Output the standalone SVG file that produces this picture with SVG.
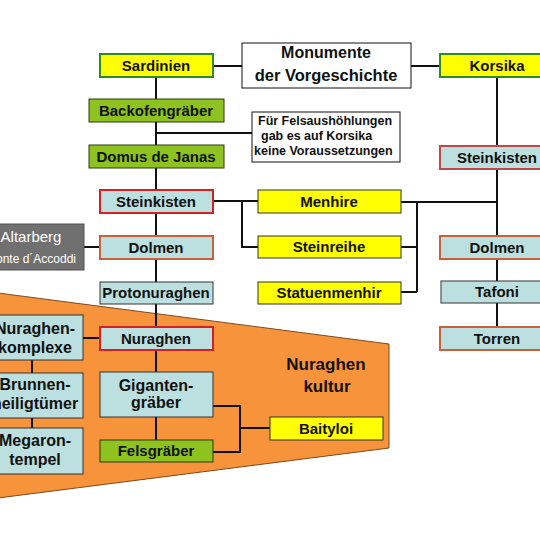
<svg xmlns="http://www.w3.org/2000/svg" width="540" height="540" viewBox="0 0 540 540">
<style>
text{font-family:"Liberation Sans",Arial,sans-serif;font-weight:bold;fill:#111;text-anchor:middle}
.c{stroke:#111;stroke-width:2;fill:none}
.yel{fill:#ffff00;stroke:#333;stroke-width:1}
.reg{fill:#ffff00;stroke:#2e8b1e;stroke-width:2}
.grn{fill:#8dc21f;stroke:#2a3a10;stroke-width:1}
.blu{fill:#bcdfdf;stroke:#333;stroke-width:1}
.red{fill:#bcdfdf;stroke:#d42020;stroke-width:2}
.bro{fill:#bcdfdf;stroke:#c8603c;stroke-width:2}
.rsk{fill:#bcdfdf;stroke:#c04848;stroke-width:2}
.t15{font-size:15px}
.t16{font-size:16px}
</style>
<rect width="540" height="540" fill="#ffffff"/>
<polygon points="-2,293 389,344 389,448 -2,498" fill="#f7933b" stroke="#7a4a20" stroke-width="1"/>
<g id="connectors">
<path class="c" d="M213,66H242M411,66H440"/>
<path class="c" d="M156,77V440"/>
<path class="c" d="M156,133H253"/>
<path class="c" d="M213,201H258M242,201V247H258"/>
<path class="c" d="M401,202H497M417,202V292M401,247H417M401,292H417"/>
<path class="c" d="M497,77V327"/>
<path class="c" d="M84,247H100"/>
<path class="c" d="M83,338H100M32,360V428"/>
<path class="c" d="M213,406H240V452H213M240,428H270"/>
</g>
<g id="monumente"><rect x="242" y="43" width="169" height="45" fill="#fff" stroke="#111" stroke-width="1"/><text x="326" y="58" class="t16">Monumente</text><text x="326" y="81" style="font-size:16.5px">der Vorgeschichte</text></g>
<g id="sardinien"><rect class="reg" x="100" y="54" width="113" height="23"/><text x="156" y="71" class="t15">Sardinien</text></g>
<g id="korsika"><rect class="reg" x="440" y="54" width="114" height="23"/><text x="497" y="71" class="t15">Korsika</text></g>
<g id="backofen"><rect class="grn" x="89" y="99" width="135" height="23"/><text x="156" y="116" class="t15">Backofengräber</text></g>
<g id="domus"><rect class="grn" x="89" y="145" width="135" height="23"/><text x="156" y="162" class="t15">Domus de Janas</text></g>
<g id="hinweis"><rect x="252" y="112" width="148" height="50" fill="#fff" stroke="#111" stroke-width="1"/>
<text x="258" y="125" style="font-size:12.5px;text-anchor:start">Für Felsaushöhlungen</text>
<text x="261" y="140" style="font-size:12.5px;text-anchor:start">gab es auf Korsika</text>
<text x="254" y="155" style="font-size:12.5px;text-anchor:start">keine Voraussetzungen</text></g>
<g id="steinkisten-s"><rect class="red" x="100" y="190" width="113" height="23"/><text x="156" y="207" class="t15">Steinkisten</text></g>
<g id="dolmen-s"><rect class="bro" x="100" y="236" width="113" height="23"/><text x="156" y="253" class="t15">Dolmen</text></g>
<g id="protonuraghen"><rect class="blu" x="100" y="282" width="113" height="22"/><text x="156" y="298" class="t15">Protonuraghen</text></g>
<g id="altarberg"><rect x="-22" y="224" width="106" height="46" fill="#707070" stroke="#505050" stroke-width="1"/>
<text x="31" y="242" style="font-weight:normal;fill:#fff;font-size:15px">Altarberg</text>
<text x="31" y="263" style="font-weight:normal;fill:#fff;font-size:12px">Monte d´Accoddi</text></g>
<g id="menhire"><rect class="yel" x="258" y="190" width="143" height="23"/><text x="329" y="207" class="t15">Menhire</text></g>
<g id="steinreihe"><rect class="yel" x="258" y="236" width="143" height="22"/><text x="329" y="252" class="t15">Steinreihe</text></g>
<g id="statuenmenhir"><rect class="yel" x="258" y="282" width="143" height="22"/><text x="329" y="298" class="t15">Statuenmenhir</text></g>
<g id="steinkisten-k"><rect class="rsk" x="440" y="146" width="114" height="23"/><text x="497" y="163" class="t15">Steinkisten</text></g>
<g id="dolmen-k"><rect class="bro" x="440" y="236" width="114" height="23"/><text x="497" y="253" class="t15">Dolmen</text></g>
<g id="tafoni"><rect class="blu" x="441" y="281" width="113" height="22"/><text x="497" y="297" class="t15">Tafoni</text></g>
<g id="torren"><rect class="bro" x="440" y="327" width="114" height="23"/><text x="497" y="344" class="t15">Torren</text></g>
<g id="nuraghen"><rect class="red" x="100" y="327" width="113" height="23"/><text x="156" y="344" class="t15">Nuraghen</text></g>
<g id="nuraghenkomplexe"><rect class="blu" x="-13" y="315" width="96" height="45"/><text x="35" y="334" class="t16">Nuraghen-</text><text x="35" y="353" class="t16">komplexe</text></g>
<g id="brunnen"><rect class="blu" x="-13" y="373" width="96" height="45"/><text x="35" y="390" class="t16">Brunnen-</text><text x="35" y="409" class="t16">heiligtümer</text></g>
<g id="megaron"><rect class="blu" x="-13" y="428" width="96" height="46"/><text x="35" y="446" class="t16">Megaron-</text><text x="35" y="465" class="t16">tempel</text></g>
<g id="giganten"><rect class="blu" x="100" y="372" width="113" height="45"/><text x="156" y="391" class="t16">Giganten-</text><text x="156" y="408" class="t16">gräber</text></g>
<g id="felsgraeber"><rect class="grn" x="100" y="440" width="113" height="22"/><text x="156" y="456" class="t15">Felsgräber</text></g>
<g id="baityloi"><rect class="yel" x="270" y="417" width="113" height="23"/><text x="326" y="434" class="t15">Baityloi</text></g>
<g id="kultur"><text x="326" y="370" style="font-size:17px">Nuraghen</text><text x="327" y="392" style="font-size:17px">kultur</text></g>
</svg>
